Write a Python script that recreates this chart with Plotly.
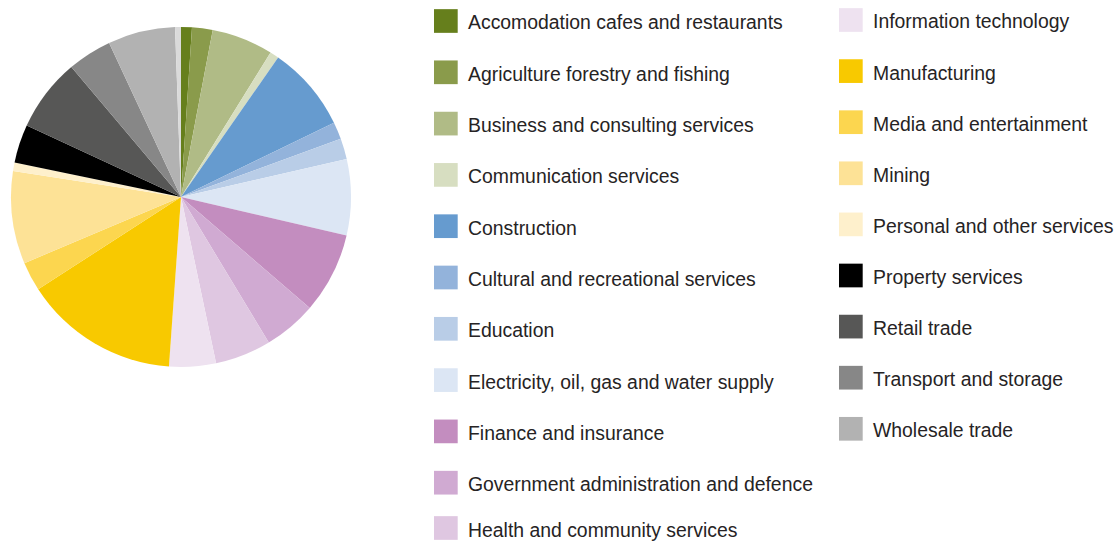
import plotly.graph_objects as go

# ---- data (percent share) ----
labels = [
    "Accomodation cafes and restaurants",
    "Agriculture forestry and fishing",
    "Business and consulting services",
    "Communication services",
    "Construction",
    "Cultural and recreational services",
    "Education",
    "Electricity, oil, gas and water supply",
    "Finance and insurance",
    "Government administration and defence",
    "Health and community services",
    "Information technology",
    "Manufacturing",
    "Media and entertainment",
    "Mining",
    "Personal and other services",
    "Property services",
    "Retail trade",
    "Transport and storage",
    "Wholesale trade",
    "Other",
]
values = [1.03, 1.96, 5.84, 0.85, 8.13, 1.63, 1.98, 7.22, 7.68, 5.04, 5.33,
          4.44, 14.74, 2.77, 8.81, 0.81, 3.64, 6.94, 4.21, 6.39, 0.56]
colors = ["#667F1C", "#8A9B4B", "#B0BB86", "#D7DEC1", "#669BCF", "#93B3DB",
          "#B9CDE7", "#DCE6F4", "#C38DBF", "#D0AAD2", "#DFC7E1", "#EEE2F0",
          "#F8C900", "#FCD64F", "#FDE296", "#FEF0CC", "#000000", "#575756",
          "#878787", "#B2B2B2", "#DADADA"]
legend_labels = labels[:20]

W, H = 1114, 541

fig = go.Figure()
fig.add_trace(go.Pie(
    labels=labels,
    values=values,
    marker=dict(colors=colors, line=dict(width=0)),
    sort=False,
    direction="clockwise",
    rotation=0,
    textinfo="none",
    hoverinfo="label+percent",
    showlegend=False,
    domain=dict(x=[11 / W, 351 / W], y=[(H - 367) / H, (H - 27) / H]),
))

# ---- manual two-column legend ----
shapes = []
annotations = []
font = dict(family="Liberation Sans, Arial, sans-serif", size=19.4, color="#262324")
for i, lab in enumerate(legend_labels):
    if i < 11:
        col_x_sq, col_x_txt = 434, 465.5
        row = i
        yc = 21 + row * 51.3
        if row == 10:
            yc = 528
    else:
        col_x_sq, col_x_txt = 839, 871
        row = i - 11
        yc = 20 + row * 51.1
    sz = 23.7
    shapes.append(dict(
        type="rect", xref="paper", yref="paper",
        x0=col_x_sq / W, x1=(col_x_sq + sz) / W,
        y0=(H - (yc + sz / 2)) / H, y1=(H - (yc - sz / 2)) / H,
        fillcolor=colors[i], line=dict(width=0), layer="above",
    ))
    annotations.append(dict(
        x=col_x_txt / W, y=(H - (yc + 1.5)) / H, xref="paper", yref="paper",
        text=lab, showarrow=False, xanchor="left", yanchor="middle",
        font=font,
    ))

fig.update_layout(
    width=W, height=H,
    margin=dict(l=0, r=0, t=0, b=0),
    paper_bgcolor="white",
    plot_bgcolor="white",
    shapes=shapes,
    annotations=annotations,
)

fig.write_html("out.html",
               config={"displayModeBar": False},
               post_script="document.body.style.margin='0';document.body.style.padding='0';")
